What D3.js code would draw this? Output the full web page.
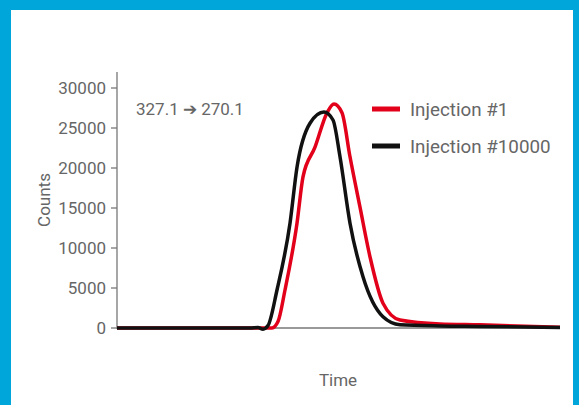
<!DOCTYPE html>
<html>
<head>
<meta charset="utf-8">
<script src="https://cdn.jsdelivr.net/npm/d3@7"></script>
<style>
body { margin: 0; background: #00a5d9; }
svg { display: block; }
text { font-family: "Roboto", sans-serif; fill: #666; }
</style>
</head>
<body>
<script>
// time in arbitrary units (0..44.3), counts
var blackTime = [0, 13.3, 14.1, 14.6, 15.1, 16.0, 17.3, 18.0, 19.3, 20.7, 21.6, 22.3, 23.3, 24.6, 26.6, 28.3, 32.3, 36.3, 44.3];
var blackCounts = [0, 0, 50, -150, 300, 4750, 13100, 20100, 25600, 27000, 26000, 21400, 13100, 6400, 1400, 400, 250, 200, 50];
var redTime = [0, 14.3, 15.5, 16.1, 16.8, 18.0, 18.6, 19.8, 21.0, 21.7, 22.5, 23.3, 24.3, 25.3, 26.6, 28.3, 32.3, 36.3, 44.3];
var redCounts = [0, 0, 0, 800, 4750, 13100, 18900, 22600, 26900, 28000, 26900, 21400, 15100, 8900, 3100, 1000, 500, 400, 100];
var yTicks = [0, 5000, 10000, 15000, 20000, 25000, 30000];
var seriesNames = ["Injection #1", "Injection #10000"];
var seriesColors = ["#e2001a", "#111111"];

var W = 579, H = 405;
var svg = d3.select("body").append("svg").attr("width", W).attr("height", H);
svg.append("rect").attr("x", 11).attr("y", 10).attr("width", 562).attr("height", H - 10).attr("fill", "#fff");

var x = d3.scaleLinear().domain([0, 44.3]).range([117, 560]);
var y = d3.scaleLinear().domain([0, 30000]).range([328, 88]);

// axes
svg.append("line").attr("x1", 117).attr("x2", 117).attr("y1", 72).attr("y2", 329)
    .attr("stroke", "#777").attr("stroke-width", 1.3);
svg.append("line").attr("x1", 117).attr("x2", 560).attr("y1", 328).attr("y2", 328)
    .attr("stroke", "#777").attr("stroke-width", 1.3);
yTicks.forEach(function(t) {
    svg.append("line").attr("x1", 111).attr("x2", 117).attr("y1", y(t)).attr("y2", y(t))
        .attr("stroke", "#777").attr("stroke-width", 1.3);
    svg.append("text").attr("x", 106).attr("y", y(t) + 6).attr("text-anchor", "end")
        .style("font-size", "17px").text(t);
});

svg.append("text").attr("transform", "translate(50,200) rotate(-90)").attr("text-anchor", "middle")
    .style("font-size", "17px").text("Counts");
svg.append("text").attr("x", 338).attr("y", 386).attr("text-anchor", "middle")
    .style("font-size", "17px").text("Time");
svg.append("text").attr("x", 136).attr("y", 115).style("font-size", "17px").text("327.1 \u2794  270.1");

var line = d3.line().x(function(d) { return x(d[0]); }).y(function(d) { return y(d[1]); })
    .curve(d3.curveMonotoneX);
var red = d3.zip(redTime, redCounts), black = d3.zip(blackTime, blackCounts);
[red, black].forEach(function(s, i) {
    svg.append("path").datum(s).attr("d", line).attr("fill", "none")
        .attr("stroke", seriesColors[i]).attr("stroke-width", 3.5).attr("stroke-linejoin", "round");
});

// legend
seriesNames.forEach(function(n, i) {
    var ly = 109 + i * 37;
    svg.append("line").attr("x1", 372).attr("x2", 400).attr("y1", ly).attr("y2", ly)
        .attr("stroke", seriesColors[i]).attr("stroke-width", 5);
    svg.append("text").attr("x", 410).attr("y", ly + 7).style("font-size", "18.8px").text(n);
});
</script>
</body>
</html>
